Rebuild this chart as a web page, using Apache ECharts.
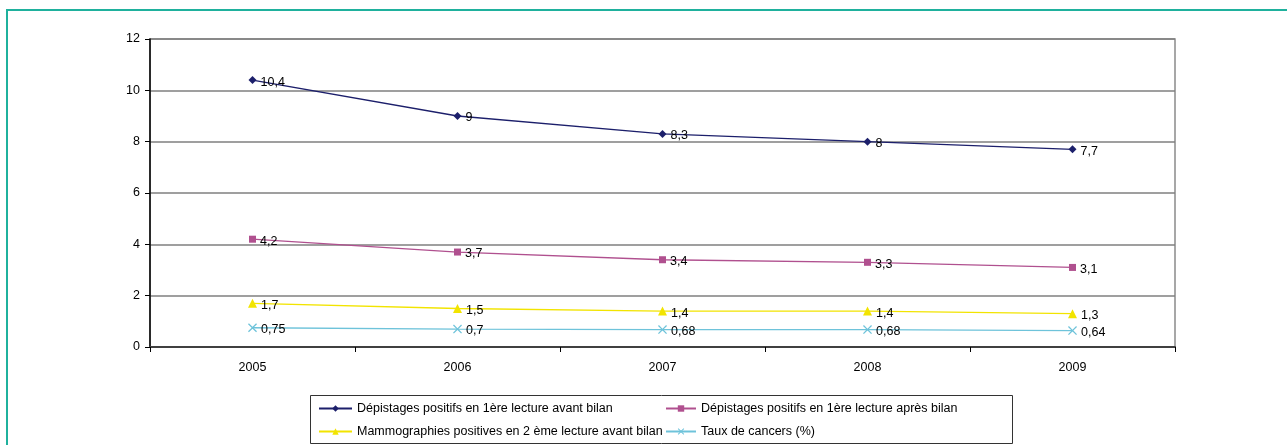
<!DOCTYPE html>
<html>
<head>
<meta charset="utf-8">
<script src="https://cdn.jsdelivr.net/npm/echarts@6/dist/echarts.min.js"></script>
<style>
  html, body { margin: 0; padding: 0; background: #ffffff; }
  #chart { width: 1287px; height: 445px; }
</style>
</head>
<body>
<div id="chart"></div>
<script>
// Years on the horizontal axis
const years = ['2005', '2006', '2007', '2008', '2009'];

// Series names and values (percent)
const nameAvant = 'Dépistages positifs en 1ère lecture avant bilan';
const nameApres = 'Dépistages positifs en 1ère lecture après bilan';
const nameMammo = 'Mammographies positives en 2 ème lecture avant bilan';
const nameTaux = 'Taux de cancers (%)';

const avantBilan = [10.4, 9, 8.3, 8, 7.7];
const apresBilan = [4.2, 3.7, 3.4, 3.3, 3.1];
const mammo2eLecture = [1.7, 1.5, 1.4, 1.4, 1.3];
const tauxCancers = [0.75, 0.7, 0.68, 0.68, 0.64];

// Vertical axis ticks
const yTicks = [0, 2, 4, 6, 8, 10, 12];

const FONT = "'Liberation Sans', Arial, sans-serif";
const FS = 12.5;

// French decimal comma for the value labels
const frNum = v => String(v).replace('.', ',');

const crossSymbol = 'path://M0,1L1,0L5,4L9,0L10,1L6,5L10,9L9,10L5,6L1,10L0,9L4,5Z';

function lineSeries(name, data, color, symbol, size) {
  return {
    name: name,
    type: 'line',
    data: data,
    symbol: symbol,
    symbolSize: size,
    showAllSymbol: true,
    itemStyle: { color: color },
    lineStyle: { color: color, width: 1.3 },
    label: {
      show: true,
      position: 'right',
      distance: 4,
      offset: [0, 2],
      color: '#000',
      fontFamily: FONT,
      fontSize: FS,
      formatter: p => frNum(p.value)
    },
    emphasis: { disabled: true },
    animation: false
  };
}

const chart = echarts.init(document.getElementById('chart'), null, { renderer: 'canvas' });

const legendText = { color: '#000', fontFamily: FONT, fontSize: FS };

chart.setOption({
  backgroundColor: '#ffffff',
  animation: false,
  grid: {
    left: 150, right: 112, top: 39, bottom: 98,
    show: true, borderColor: '#8a8a8a', borderWidth: 1.5,
    backgroundColor: 'transparent'
  },
  xAxis: {
    type: 'category',
    data: years,
    boundaryGap: true,
    axisLine: { lineStyle: { color: '#404040', width: 2 } },
    axisTick: { show: true, inside: false, length: 5, lineStyle: { color: '#000', width: 1 } },
    axisLabel: { color: '#000', fontFamily: FONT, fontSize: FS, margin: 14 }
  },
  yAxis: {
    type: 'value',
    min: yTicks[0],
    max: yTicks[yTicks.length - 1],
    interval: yTicks[1] - yTicks[0],
    axisLine: { show: true, lineStyle: { color: '#000', width: 1.5 } },
    axisTick: { show: true, inside: false, length: 5, lineStyle: { color: '#000' } },
    axisLabel: { color: '#000', fontFamily: FONT, fontSize: FS, margin: 10 },
    splitLine: { show: true, lineStyle: { color: '#7f7f7f', width: 1.5 } }
  },
  legend: [
    {
      data: [nameAvant, nameMammo],
      orient: 'vertical',
      left: 313, top: 397,
      itemWidth: 33, itemHeight: 8, itemGap: 10,
      textStyle: legendText,
      selectedMode: false
    },
    {
      data: [nameApres, nameTaux],
      orient: 'vertical',
      left: 660, top: 397,
      itemWidth: 30, itemHeight: 8, itemGap: 10,
      textStyle: legendText,
      selectedMode: false
    }
  ],
  graphic: [
    {
      type: 'rect',
      shape: { x: 7, y: 10, width: 1300, height: 460 },
      style: { fill: 'none', stroke: '#1fb19d', lineWidth: 2 },
      silent: true, z: -1
    },
    {
      type: 'rect',
      shape: { x: 310.5, y: 395.5, width: 702, height: 48 },
      style: { fill: 'none', stroke: '#333333', lineWidth: 1 },
      silent: true
    }
  ],
  series: [
    lineSeries(nameAvant, avantBilan, '#1c1f6b', 'diamond', 8),
    lineSeries(nameApres, apresBilan, '#b0508f', 'rect', 7),
    lineSeries(nameMammo, mammo2eLecture, '#f2e400', 'triangle', 9),
    lineSeries(nameTaux, tauxCancers, '#6ec3da', crossSymbol, 9)
  ]
});
</script>
</body>
</html>
